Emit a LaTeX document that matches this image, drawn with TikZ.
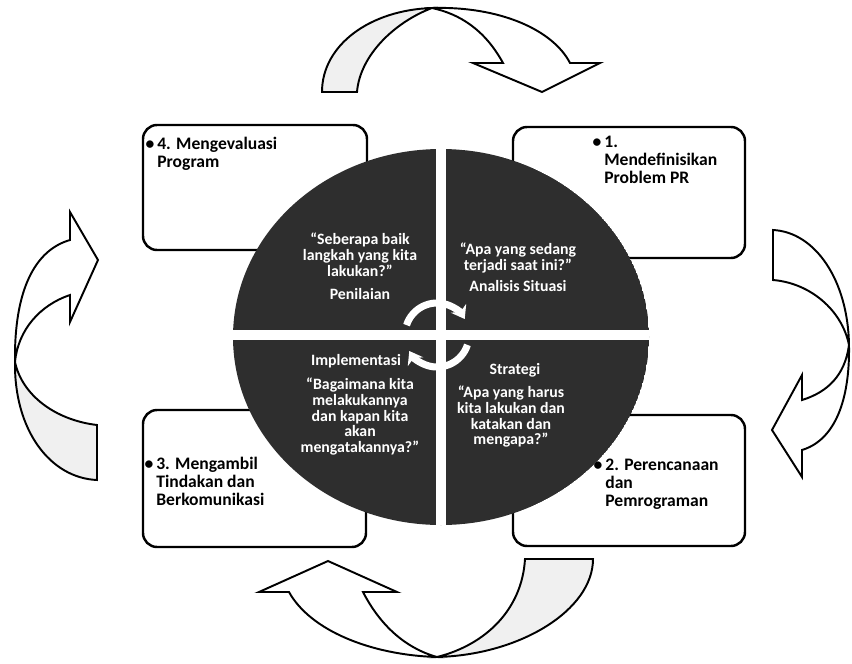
\documentclass[tikz,border=0pt]{standalone}
\usepackage{fontspec}
\setmainfont{Carlito}
\usetikzlibrary{arrows.meta}

\begin{document}
\begin{tikzpicture}[x=0.02cm, y=-0.02cm,
        stepbox/.style={draw=black, line width=1.4pt, rounded corners=8pt, fill=white},
        boxtext/.style={anchor=north west, align=left, inner sep=0pt,
                        font=\bfseries\fontsize{10}{10.2}\selectfont},
        quadtext/.style={anchor=north, align=center, inner sep=0pt, text=white,
                         font=\bfseries\fontsize{9}{9.1}\selectfont},
        bigarrow/.style={draw=black, line width=1.1pt, fill=white, line join=miter},
        backside/.style={bigarrow, fill=black!6},
        turn/.style={white, line width=4pt, -{Stealth[length=7pt, width=10pt]}},
    ]
    \useasboundingbox (0,0) rectangle (852,663);

    % kotak langkah
    \draw[stepbox] (143,125) rectangle (367,250);
    \draw[stepbox] (513,127) rectangle (745,258);
    \draw[stepbox] (143,410) rectangle (366,547);
    \draw[stepbox] (513,415) rectangle (745,546);

    \node[boxtext] (evaltext) at (157,137) {\llap{\textbullet\,}4. Mengevaluasi\\Program};
    \node[boxtext] (deftext) at (604,136) {\llap{\textbullet\,}1.\\Mendefinisikan\\Problem PR};
    \node[boxtext] (acttext) at (156,457) {\llap{\textbullet\,}3. Mengambil\\Tindakan dan\\Berkomunikasi};
    \node[boxtext] (plantext) at (605,459) {\llap{\textbullet\,}2. Perencanaan\\dan\\Pemrograman};

    % lingkaran tengah
    \begin{scope}
        \clip (441,337) ellipse [x radius=208, y radius=188];
        \fill[black!82] (441,337) ellipse [x radius=208, y radius=188];
        \draw[white, line width=6pt] (441,140) -- (441,540);
        \draw[white, line width=6pt] (220,335) -- (660,335);
    \end{scope}

    % panah putar tengah
    \draw[turn] (437,335) ++(198:32) arc[start angle=198, end angle=330, radius=32];
    \draw[turn] (437,335) ++(18:32) arc[start angle=18, end angle=150, radius=32];

    % teks kuadran
    \node[quadtext] (evalq) at (360,232) {“Seberapa baik\\langkah yang kita\\lakukan?”};
    \node[quadtext] (evalname) at (360,288) {Penilaian};
    \node[quadtext] (defq) at (518,242) {“Apa yang sedang\\terjadi saat ini?”};
    \node[quadtext] (defname) at (518,280) {Analisis Situasi};
    \node[quadtext] (planname) at (515,363) {Strategi};
    \node[quadtext] (planq) at (511,385) {“Apa yang harus\\kita lakukan dan\\katakan dan\\mengapa?”};
    \node[quadtext] (actname) at (356,354) {Implementasi};
    \node[quadtext] (actq) at (360,377) {“Bagaimana kita\\melakukannya\\dan kapan kita\\akan\\mengatakannya?”};

    % panah besar: atas
    \filldraw[backside] (432,8) .. controls (370,10) and (322,45) .. (322,92)
        -- (357,92) .. controls (360,55) and (395,22) .. (432,8) -- cycle;
    \filldraw[bigarrow] (432,8) .. controls (500,6) and (553,30) .. (570,63)
        -- (600,63) -- (542,92) -- (473,63) -- (503,63)
        .. controls (485,30) and (460,14) .. (432,8) -- cycle;

    % panah besar: kanan
    \filldraw[bigarrow] (849,345) .. controls (848,280) and (815,232) .. (773,230)
        -- (773,280) .. controls (810,283) and (842,310) .. (849,345) -- cycle;
    \filldraw[bigarrow] (849,345) .. controls (850,400) and (835,440) .. (802,450)
        -- (802,477) -- (772,430) -- (802,375) -- (802,400)
        .. controls (828,392) and (845,375) .. (849,345) -- cycle;

    % panah besar: bawah
    \filldraw[backside] (437,657) .. controls (520,655) and (593,610) .. (593,559)
        -- (525,559) .. controls (522,610) and (485,645) .. (437,657) -- cycle;
    \filldraw[bigarrow] (437,657) .. controls (370,655) and (310,630) .. (289,592)
        -- (259,592) -- (328,561) -- (397,592) -- (363,592)
        .. controls (380,625) and (405,648) .. (437,657) -- cycle;

    % panah besar: kiri
    \filldraw[backside] (15,362) .. controls (14,430) and (50,478) .. (97,480)
        -- (97,425) .. controls (55,420) and (22,395) .. (15,362) -- cycle;
    \filldraw[bigarrow] (15,362) .. controls (14,290) and (35,250) .. (70,240)
        -- (70,212) -- (98,260) -- (70,322) -- (70,295)
        .. controls (40,305) and (18,330) .. (15,362) -- cycle;
\end{tikzpicture}
\end{document}
